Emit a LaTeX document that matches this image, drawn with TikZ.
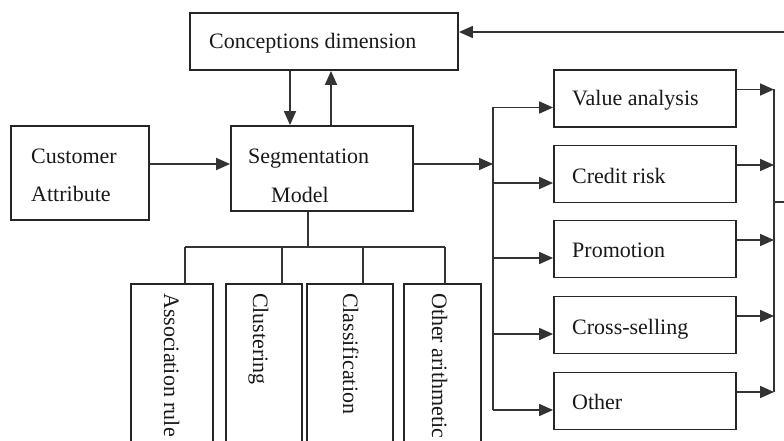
\documentclass[tikz,border=0pt]{standalone}
\usepackage{fontspec}
\setmainfont{Liberation Serif}
\usetikzlibrary{arrows.meta}

\begin{document}
\begin{tikzpicture}[x=1pt,y=-1pt,
  box/.style={draw=black!85, line width=1.8pt, inner sep=0pt},
  lbl/.style={inner sep=0pt, font=\fontsize{22pt}{26pt}\selectfont, text=black!90},
  wire/.style={draw=black!80, line width=1.7pt},
  arr/.style={wire, -{Triangle[length=14pt,width=12pt]}}]
\useasboundingbox (0,0) rectangle (784,441);
\fill[white] (0,0) rectangle (784,441);

% upper boxes
\node[box, minimum width=268pt, minimum height=57pt] (concept) at (324,41.5) {};
\node[box, minimum width=138pt, minimum height=94pt] (cust) at (80,173) {};
\node[box, minimum width=182pt, minimum height=85pt] (seg) at (322,168.5) {};

\node[lbl, anchor=base west] (concept-t) at (209,49) {Conceptions dimension};
\node[lbl, anchor=base west] (cust-t1) at (31,164) {Customer};
\node[lbl, anchor=base west] (cust-t2) at (31,201) {Attribute};
\node[lbl, anchor=base west] (seg-t1) at (248,164) {Segmentation};
\node[lbl, anchor=base west] (seg-t2) at (271,202) {Model};

% application boxes on the right
\node[box, minimum width=182pt, minimum height=57pt] (val) at (645,98.5) {};
\node[box, minimum width=182pt, minimum height=57pt] (cred) at (645,174) {};
\node[box, minimum width=182pt, minimum height=57pt] (promo) at (645,249) {};
\node[box, minimum width=182pt, minimum height=57pt] (cross) at (645,325) {};
\node[box, minimum width=182pt, minimum height=57pt] (oth) at (645,401) {};

\node[lbl, anchor=base west] (val-t) at (572,106) {Value analysis};
\node[lbl, anchor=base west] (cred-t) at (572,183) {Credit risk};
\node[lbl, anchor=base west] (promo-t) at (572,257) {Promotion};
\node[lbl, anchor=base west] (cross-t) at (572,334) {Cross-selling};
\node[lbl, anchor=base west] (oth-t) at (572,409) {Other};

% algorithm boxes at the bottom (running past the lower edge)
\node[box, minimum width=82pt, minimum height=180pt] (assoc) at (172,374) {};
\node[box, minimum width=76pt, minimum height=180pt] (clus) at (264,374) {};
\node[box, minimum width=86pt, minimum height=180pt] (class) at (350,374) {};
\node[box, minimum width=77pt, minimum height=180pt] (arith) at (442.5,374) {};

\node[lbl, rotate=-90, anchor=base west] (assoc-t) at (164,293) {Association rule};
\node[lbl, rotate=-90, anchor=base west] (clus-t) at (253,293) {Clustering};
\node[lbl, rotate=-90, anchor=base west] (class-t) at (343,293) {Classification};
\node[lbl, rotate=-90, anchor=base west] (arith-t) at (432,293) {Other arithmetic};

% bus points
\coordinate (busL) at (493,164);
\coordinate (busR) at (774,202);
\coordinate (edgeR) at (790,202);
\coordinate (edgeT) at (790,32);
\coordinate (hub) at (308,247);
\coordinate (d1) at (185,247);
\coordinate (d2) at (282,247);
\coordinate (d3) at (363,247);
\coordinate (d4) at (445,247);

% concept <-> segmentation
\draw[arr] ([xshift=-34pt]concept.south) -- ([xshift=-34pt]concept.south |- seg.north);
\draw[arr] ([xshift=9pt]seg.north) -- ([xshift=9pt]seg.north |- concept.south);

% customer attribute -> segmentation
\draw[arr] ([yshift=9pt]cust.east) -- ([yshift=9pt]cust.east -| seg.west);

% segmentation -> left bus
\draw[arr] ([yshift=4.5pt]seg.east) -- (busL);
\draw[wire] ([yshift=-9pt]val.west -| busL) -- ([yshift=-9pt]oth.west -| busL);
\foreach \b in {val,cred,promo,cross,oth}
  \draw[arr] ([yshift=-9pt]\b.west -| busL) -- ([yshift=-9pt]\b.west);

% applications -> right bus -> back to concept
\foreach \b in {val,cred,promo,cross,oth}
  \draw[arr] ([yshift=9pt]\b.east) -- ([yshift=9pt]\b.east -| busR);
\draw[wire] ([yshift=9pt]val.east -| busR) -- ([yshift=9pt]oth.east -| busR);
\draw[wire] (busR) -- (edgeR);
\draw[arr] (edgeT) -- (edgeT -| concept.east);

% segmentation -> algorithms
\draw[wire] (hub |- seg.south) -- (hub);
\draw[wire] (d1) -- (d4);
\draw[wire] (d1) -- (d1 |- assoc.north);
\draw[wire] (d2) -- (d2 |- clus.north);
\draw[wire] (d3) -- (d3 |- class.north);
\draw[wire] (d4) -- (d4 |- arith.north);
\end{tikzpicture}
\end{document}
